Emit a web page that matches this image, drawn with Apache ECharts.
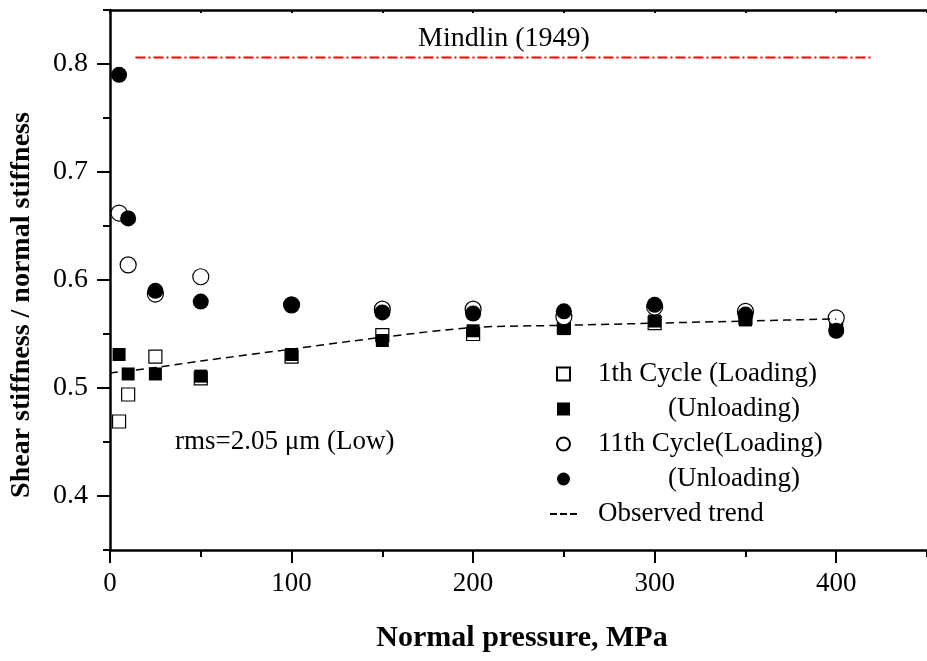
<!DOCTYPE html>
<html>
<head>
<meta charset="utf-8">
<script src="https://cdn.jsdelivr.net/npm/echarts@6/dist/echarts.min.js"></script>
<style>
  html, body { margin: 0; padding: 0; background: #fff; }
  #chart { width: 927px; height: 661px; }
</style>
</head>
<body>
<div id="chart"></div>
<script>
// Normal pressure (MPa) at which each cycle was measured
const pressures = [5, 10, 25, 50, 100, 150, 200, 250, 300, 350, 400];

// Shear / normal stiffness ratio
const cycle1Loading = [0.469, 0.494, 0.529, 0.509, 0.529, 0.549, 0.550, 0.556, 0.560, 0.565, 0.557];
const cycle1Unloading = [0.531, 0.513, 0.513, 0.511, 0.531, 0.544, 0.553, 0.555, 0.562, 0.563, 0.555];
const cycle11Loading = [0.662, 0.614, 0.587, 0.603, 0.577, 0.573, 0.573, 0.566, 0.575, 0.571, 0.565];
const cycle11Unloading = [0.790, 0.657, 0.590, 0.580, 0.577, 0.570, 0.569, 0.571, 0.577, 0.568, 0.553];

// Dashed trend line
const trendX = [0, 25, 50, 100, 150, 200, 250, 300, 350, 400];
const trendY = [0.514, 0.519, 0.525, 0.536, 0.547, 0.556, 0.558, 0.560, 0.562, 0.564];

// Mindlin (1949) reference level
const mindlinX = [14, 419];
const mindlinY = [0.806, 0.806];

// Axis ticks
const xMajorTicks = [0, 100, 200, 300, 400];
const xMinorTicks = [50, 150, 250, 350, 450];
const xTopTicks = [0, 50, 100, 150, 200, 250, 300, 350, 400, 450];
const yMajorTicks = [0.4, 0.5, 0.6, 0.7, 0.8];
const yMinorTicks = [0.35, 0.45, 0.55, 0.65, 0.75, 0.85];

const seriesNames = ["1th Cycle (Loading)", "1th Cycle (Unloading)", "11th Cycle(Loading)", "11th Cycle (Unloading)", "Observed trend"];
const legendLabels = ["1th Cycle (Loading)", "(Unloading)", "11th Cycle(Loading)", "(Unloading)", "Observed trend"];

const FONT = "'Liberation Serif', 'Times New Roman', serif";
const SQUARE = "path://M0,0h10v10h-10z";
const DASHES = "path://M0,0h7v2h-7z M10,0h7v2h-7z M20,0h7v2h-7z";

const pairs = (xs, ys) => xs.map((x, i) => [x, ys[i]]);

const chart = echarts.init(document.getElementById("chart"));

const baseX = { type: "value", min: 0, max: 450, splitLine: { show: false } };
const baseY = { type: "value", min: 0.35, max: 0.85, splitLine: { show: false } };

const openStyle = { color: "#fff", borderColor: "#000", borderWidth: 1.2, opacity: 1 };
const filledStyle = { color: "#000", borderColor: "#000", borderWidth: 0, opacity: 1 };

chart.setOption({
  animation: false,
  backgroundColor: "#fff",
  grid: { left: 110, top: 10, width: 825, height: 540 },
  xAxis: [
    {
      ...baseX,
      position: "bottom",
      axisLine: { lineStyle: { color: "#000", width: 2.5 } },
      axisTick: { customValues: xMajorTicks, length: 13, lineStyle: { color: "#000", width: 2 } },
      axisLabel: { customValues: xMajorTicks, margin: 20, color: "#000", fontFamily: FONT, fontSize: 27 }
    },
    {
      ...baseX,
      position: "bottom",
      axisLine: { show: false },
      axisTick: { customValues: xMinorTicks, length: 7, lineStyle: { color: "#000", width: 2 } },
      axisLabel: { show: false }
    },
    {
      ...baseX,
      position: "top",
      axisLine: { lineStyle: { color: "#000", width: 2.5 } },
      axisTick: { customValues: xTopTicks, length: 3, inside: true, lineStyle: { color: "#000", width: 2 } },
      axisLabel: { show: false }
    }
  ],
  yAxis: [
    {
      ...baseY,
      position: "left",
      axisLine: { lineStyle: { color: "#000", width: 2.5 } },
      axisTick: { customValues: yMajorTicks, length: 13, lineStyle: { color: "#000", width: 2 } },
      axisLabel: {
        customValues: yMajorTicks, margin: 22, color: "#000", fontFamily: FONT, fontSize: 28,
        formatter: (v) => v.toFixed(1)
      }
    },
    {
      ...baseY,
      position: "left",
      axisLine: { show: false },
      axisTick: { customValues: yMinorTicks, length: 7, lineStyle: { color: "#000", width: 2 } },
      axisLabel: { show: false }
    }
  ],
  legend: {
    data: [
      { name: seriesNames[0], icon: SQUARE },
      { name: seriesNames[1], icon: SQUARE },
      { name: seriesNames[2], icon: "circle" },
      { name: seriesNames[3], icon: "circle" },
      { name: seriesNames[4], icon: DASHES, itemStyle: { color: "#000", borderWidth: 0 } }
    ],
    orient: "vertical",
    left: 545,
    top: 354,
    itemWidth: 27,
    itemHeight: 13,
    itemGap: 5,
    symbolKeepAspect: true,
    selectedMode: false,
    formatter: (name) => {
      const i = seriesNames.indexOf(name);
      return legendLabels[i].startsWith("(") ? "{b|" + legendLabels[i] + "}" : "{a|" + legendLabels[i] + "}";
    },
    textStyle: {
      color: "#000", fontFamily: FONT, fontSize: 27, lineHeight: 30,
      rich: {
        a: { fontFamily: FONT, fontSize: 27, lineHeight: 30, color: "#000", padding: [0, 0, 0, 16] },
        b: { fontFamily: FONT, fontSize: 27, lineHeight: 30, color: "#000", padding: [0, 0, 0, 86] }
      }
    }
  },
  graphic: [
    {
      type: "text", left: 418, top: 25,
      style: { text: "Mindlin (1949)", font: "28px " + FONT, fill: "#000" }
    },
    {
      type: "text", left: 175, top: 428,
      style: { text: "rms=2.05 μm (Low)", font: "27px " + FONT, fill: "#000" }
    },
    {
      type: "text", x: 522, y: 638,
      style: { text: "Normal pressure, MPa", font: "bold 30px " + FONT, fill: "#000", align: "center", verticalAlign: "middle" }
    },
    {
      type: "text", x: 22, y: 305, rotation: Math.PI / 2,
      style: { text: "Shear stiffness / normal stiffness", font: "bold 28px " + FONT, fill: "#000", align: "center", verticalAlign: "middle" }
    }
  ],
  series: [
    {
      name: "Mindlin",
      type: "line",
      data: pairs(mindlinX, mindlinY),
      symbol: "none",
      silent: true,
      lineStyle: { color: "#ff0000", width: 2, type: [10, 3, 2, 3] }
    },
    {
      name: seriesNames[4],
      type: "line",
      data: pairs(trendX, trendY),
      symbol: "none",
      smooth: 0.3,
      silent: true,
      itemStyle: { color: "#000" },
      lineStyle: { color: "#000", width: 1.5, type: [8, 5] }
    },
    {
      name: seriesNames[0],
      type: "scatter",
      data: pairs(pressures, cycle1Loading),
      symbol: "rect",
      symbolSize: 13,
      itemStyle: openStyle
    },
    {
      name: seriesNames[1],
      type: "scatter",
      data: pairs(pressures, cycle1Unloading),
      symbol: "rect",
      symbolSize: 13,
      itemStyle: filledStyle
    },
    {
      name: seriesNames[2],
      type: "scatter",
      data: pairs(pressures, cycle11Loading),
      symbol: "circle",
      symbolSize: 16,
      itemStyle: openStyle
    },
    {
      name: seriesNames[3],
      type: "scatter",
      data: pairs(pressures, cycle11Unloading),
      symbol: "circle",
      symbolSize: 16,
      itemStyle: filledStyle
    }
  ]
});
</script>
</body>
</html>
